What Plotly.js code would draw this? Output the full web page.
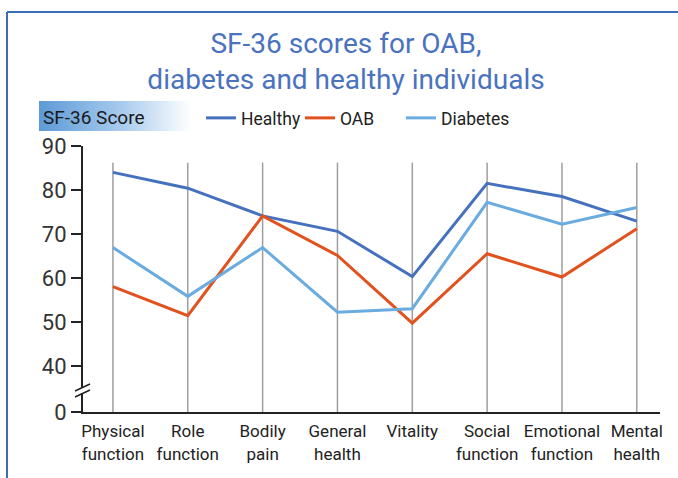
<!DOCTYPE html>
<html>
<head>
<meta charset="utf-8">
<script src="https://cdn.plot.ly/plotly-3.0.1.min.js"></script>
<style>html,body{margin:0;padding:0;background:#fff;}#chart{width:678px;height:478px;}</style>
</head>
<body>
<div id="chart"></div>
<script>
const categories = ['Physical<br>function','Role<br>function','Bodily<br>pain','General<br>health','Vitality','Social<br>function','Emotional<br>function','Mental<br>health'];
const healthy  = [84.0, 80.4, 74.1, 70.6, 60.3, 81.5, 78.5, 72.9];
const oab      = [58.0, 51.4, 74.1, 65.1, 49.7, 65.5, 60.2, 71.2];
const diabetes = [66.9, 55.8, 66.9, 52.2, 53.0, 77.2, 72.2, 76.0];
const yTickVals = [29.5, 40, 50, 60, 70, 80, 90];
const yTickText = ['0', '40', '50', '60', '70', '80', '90'];

const FONT = 'Roboto, "Liberation Sans", sans-serif';
const L = 83, R = 660, T = 146, B = 412, W = 678, H = 478;
const px = v => (v - L) / (R - L);
const py = v => (B - v) / (B - T);

const series = [
  {name: 'Healthy', y: healthy, color: '#4571be', legend: 'legend', lx: 201},
  {name: 'OAB', y: oab, color: '#e1521f', legend: 'legend2', lx: 300},
  {name: 'Diabetes', y: diabetes, color: '#6aabe0', legend: 'legend3', lx: 401}
];
const traces = series.map(s => ({
  type: 'scatter', mode: 'lines', name: s.name, legend: s.legend,
  x: categories, y: s.y,
  line: {color: s.color, width: 3},
  hoverinfo: 'skip'
}));

const shapes = categories.map((c, i) => ({
  type: 'line', xref: 'x', yref: 'y', x0: i, x1: i, y0: 29.5, y1: 86.2,
  line: {color: '#9e9e9e', width: 1.5}, layer: 'below'
}));
// frame
shapes.push({type:'line', xref:'paper', yref:'paper', x0:px(7), x1:px(W+5), y0:py(12), y1:py(12), line:{color:'#3b6db5', width:2}});
shapes.push({type:'line', xref:'paper', yref:'paper', x0:px(7), x1:px(7), y0:py(12), y1:py(H+5), line:{color:'#3b6db5', width:2}});
// axis break
shapes.push({type:'rect', xref:'paper', yref:'paper', x0:px(80), x1:px(86), y0:py(393), y1:py(387), fillcolor:'#fff', line:{width:0}});
shapes.push({type:'line', xref:'paper', yref:'paper', x0:px(75), x1:px(90), y0:py(391), y1:py(384), line:{color:'#222', width:1.5}});
shapes.push({type:'line', xref:'paper', yref:'paper', x0:px(75), x1:px(90), y0:py(397), y1:py(390), line:{color:'#222', width:1.5}});

const gradSvg = '<svg xmlns="http://www.w3.org/2000/svg" width="152" height="30"><defs><linearGradient id="g" x1="0" x2="1" y1="0" y2="0"><stop offset="0" stop-color="#5d9ad6"/><stop offset="0.55" stop-color="#a9cbee"/><stop offset="1" stop-color="#ffffff"/></linearGradient></defs><rect width="152" height="30" fill="url(#g)"/></svg>';

const layout = {
  width: W, height: H,
  margin: {l: L, r: W - R, t: T, b: H - B},
  paper_bgcolor: '#fff', plot_bgcolor: '#fff',
  font: {family: FONT, color: '#222'},
  title: {
    text: 'SF-36 scores for OAB,<br>diabetes and healthy individuals',
    font: {family: FONT, size: 28, color: '#4a72bf'},
    x: 346 / W, xanchor: 'center', xref: 'container',
    y: 1 - 53 / H, yanchor: 'top', yref: 'container'
  },
  showlegend: true,
  xaxis: {
    type: 'category', range: [-0.4, 7.31],
    showgrid: false, zeroline: false,
    showline: true, linecolor: '#222', linewidth: 2,
    ticks: '', tickangle: 0, ticklabelstandoff: 3,
    tickfont: {family: FONT, size: 17, color: '#222'},
    fixedrange: true
  },
  yaxis: {
    range: [29.5, 90],
    tickvals: yTickVals, ticktext: yTickText,
    showgrid: false, zeroline: false,
    showline: true, linecolor: '#222', linewidth: 2,
    ticks: 'outside', ticklen: 10, tickwidth: 1.5, tickcolor: '#222',
    tickfont: {family: FONT, size: 22, color: '#333'},
    fixedrange: true
  },
  shapes: shapes,
  images: [{
    source: 'data:image/svg+xml;base64,' + btoa(gradSvg),
    xref: 'paper', yref: 'paper', x: px(39), y: py(101),
    sizex: px(191) - px(39), sizey: py(101) - py(131),
    xanchor: 'left', yanchor: 'top', sizing: 'stretch', layer: 'below'
  }],
  annotations: [{
    text: 'SF-36 Score', xref: 'paper', yref: 'paper', x: px(41), y: py(117),
    xanchor: 'left', yanchor: 'middle', showarrow: false,
    font: {family: FONT, size: 19, color: '#1a1a1a'}
  }]
};
series.forEach(s => {
  layout[s.legend] = {
    orientation: 'h', x: px(s.lx), xanchor: 'left', y: py(118), yanchor: 'middle',
    font: {family: FONT, size: 17.5, color: '#222'},
    itemwidth: 30, bgcolor: 'rgba(0,0,0,0)'
  };
});

Plotly.newPlot('chart', traces, layout, {displayModeBar: false, staticPlot: true});
</script>
</body>
</html>
